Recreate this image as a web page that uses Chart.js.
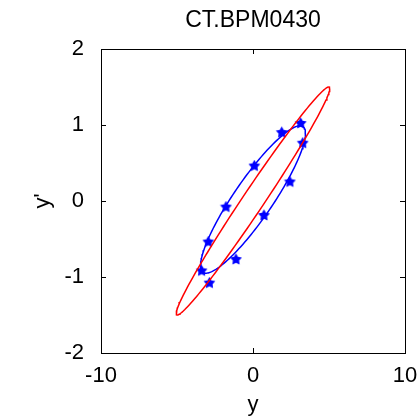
<!DOCTYPE html>
<html>
<head>
<meta charset="utf-8">
<script src="https://cdn.jsdelivr.net/npm/chart.js@4/dist/chart.umd.min.js"></script>
<style>
  body { margin: 0; background: #fff; }
  #wrap { width: 420px; height: 418px; }
</style>
</head>
<body>
<div id="wrap"><canvas id="chart"></canvas></div>
<script>
// measured points (y, y')
const pointsX = [3.14, 1.89, 3.27, 0.09, 2.43, -1.78, 0.72, -2.94, -1.12, -3.38, -2.87];
const pointsY = [1.02, 0.90, 0.76, 0.46, 0.25, -0.08, -0.19, -0.54, -0.77, -0.92, -1.08];

// ellipses: [centre y, centre y', amplitude y, amplitude y', phase]
const redEllipse = [0, 0, 5.05, 1.50, 0.167];
const blueEllipse = [0, 0.02, 3.45, 0.97, 0.459];

const xTicks = [-10, 0, 10];
const yTicks = [-2, -1, 0, 1, 2];

const FONT = "'Liberation Sans', Arial, sans-serif";

// trace ellipse outline from its parameters
function ellipse(p) {
  const pts = [];
  for (let i = 0; i <= 160; i++) {
    const t = (i / 160) * 2 * Math.PI;
    pts.push({ x: p[0] + p[2] * Math.cos(t), y: p[1] + p[3] * Math.cos(t - p[4]) });
  }
  return pts;
}

// filled star marker
const star = document.createElement("canvas");
star.width = 13; star.height = 13;
const sc = star.getContext("2d");
sc.fillStyle = "#0000ff";
sc.beginPath();
for (let i = 0; i < 10; i++) {
  const r = i % 2 ? 3.3 : 6.2;
  const a = -Math.PI / 2 + i * Math.PI / 5;
  sc.lineTo(6.5 + r * Math.cos(a), 6.5 + r * Math.sin(a));
}
sc.closePath();
sc.fill();

// box + inward ticks (matlab style)
const frame = {
  id: "frame",
  afterDraw(chart) {
    const { ctx, chartArea: a, scales } = chart;
    ctx.save();
    ctx.strokeStyle = "#000";
    ctx.lineWidth = 1;
    ctx.strokeRect(a.left + 0.5, a.top + 0.5, a.right - a.left, a.bottom - a.top);
    ctx.beginPath();
    xTicks.forEach(v => {
      const px = Math.round(scales.x.getPixelForValue(v)) + 0.5;
      ctx.moveTo(px, a.bottom); ctx.lineTo(px, a.bottom - 5);
      ctx.moveTo(px, a.top); ctx.lineTo(px, a.top + 5);
    });
    yTicks.forEach(v => {
      const py = Math.round(scales.y.getPixelForValue(v)) + 0.5;
      ctx.moveTo(a.left, py); ctx.lineTo(a.left + 5, py);
      ctx.moveTo(a.right, py); ctx.lineTo(a.right - 5, py);
    });
    ctx.stroke();
    ctx.restore();
  }
};

new Chart(document.getElementById("chart"), {
  type: "scatter",
  data: {
    datasets: [
      {
        data: ellipse(redEllipse),
        showLine: true,
        borderColor: "#ff0000",
        borderWidth: 1.5,
        pointRadius: 0,
        fill: false
      },
      {
        data: ellipse(blueEllipse),
        showLine: true,
        borderColor: "#0000ff",
        borderWidth: 1.5,
        pointRadius: 0,
        fill: false
      },
      {
        data: pointsX.map((x, i) => ({ x: x, y: pointsY[i] })),
        pointStyle: star,
        pointRadius: 6
      }
    ]
  },
  options: {
    responsive: true,
    maintainAspectRatio: false,
    animation: false,
    layout: { padding: { right: 15 } },
    plugins: {
      legend: { display: false },
      tooltip: { enabled: false },
      title: { display: false }
    },
    scales: {
      x: {
        type: "linear",
        min: -10, max: 10,
        afterBuildTicks(s) { s.ticks = xTicks.map(v => ({ value: v })); },
        afterFit(s) { s.height = 65; s.paddingLeft = 0; s.paddingRight = 0; },
        grid: { display: false },
        border: { display: false },
        ticks: { color: "#000", font: { family: FONT, size: 22 }, padding: 2, maxRotation: 0 },
        title: {
          display: true, text: "y", color: "#000",
          font: { family: FONT, size: 22 }, padding: { top: 0, bottom: 0 }
        }
      },
      // top axis only carries the plot title, centred over the axes box
      top: {
        type: "linear",
        position: "top",
        min: -10, max: 10,
        afterFit(s) { s.height = 49; s.paddingLeft = 0; s.paddingRight = 0; },
        grid: { display: false },
        border: { display: false },
        ticks: { display: false },
        title: {
          display: true, text: "CT.BPM0430", color: "#000",
          font: { family: FONT, size: 23 }, padding: { top: 7, bottom: 0 }
        }
      },
      y: {
        min: -2, max: 2,
        afterBuildTicks(s) { s.ticks = yTicks.map(v => ({ value: v })); },
        afterFit(s) { s.width = 101; },
        grid: { display: false },
        border: { display: false },
        ticks: { color: "#000", font: { family: FONT, size: 22 }, padding: 9 },
        title: {
          display: true, text: "y'", color: "#000",
          font: { family: FONT, size: 22 }, padding: { top: 30, bottom: 0 }
        }
      }
    }
  },
  plugins: [frame]
});
</script>
</body>
</html>
